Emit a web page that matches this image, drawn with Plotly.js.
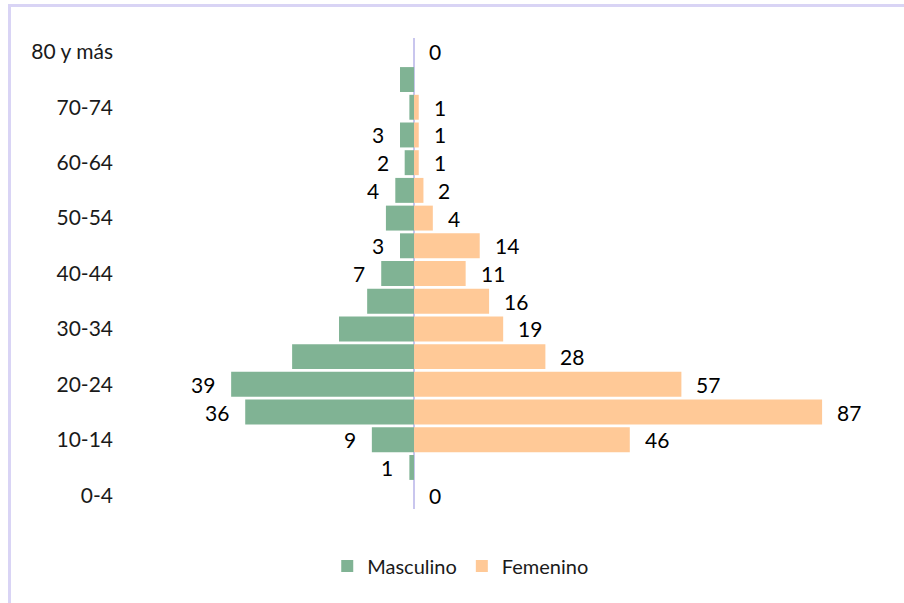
<!DOCTYPE html>
<html>
<head>
<meta charset="utf-8">
<script src="https://cdn.plot.ly/plotly-3.0.1.min.js"></script>
<style>
  html, body { margin: 0; padding: 0; background: #ffffff; overflow: hidden; }
  #frame { position: absolute; left: 8px; top: 4px; width: 2000px; height: 2000px;
           border-left: 3px solid #d9d4f5; border-top: 3px solid #d9d4f5; }
  #chart { position: absolute; left: 0; top: 0; width: 904px; height: 603px; }
</style>
</head>
<body>
<div id="frame"></div>
<div id="chart"></div>
<script>
// Age groups, bottom to top
const ageGroups = ['0-4','5-9','10-14','15-19','20-24','25-29','30-34','35-39','40-44',
                   '45-49','50-54','55-59','60-64','65-69','70-74','75-79','80 y más'];
// Tick labels shown on the vertical axis
const tickLabels = ['0-4','10-14','20-24','30-34','40-44','50-54','60-64','70-74','80 y más'];
// Values
const masculino = [0, 1, 9, 36, 39, 26, 16, 10, 7, 3, 6, 4, 2, 3, 1, 3, 0];
const femenino  = [0, 0, 46, 87, 57, 28, 19, 16, 11, 14, 4, 2, 1, 1, 1, 0, 0];
// Data labels as printed in the picture ('' = no label shown)
const masculinoLabels = ['', '1', '9', '36', '39', '', '', '', '7', '3', '', '4', '2', '3', '', '', ''];
const femeninoLabels  = ['0', '', '46', '87', '57', '28', '19', '16', '11', '14', '4', '2', '1', '1', '1', '', '0'];

const FONT = 'Lato, "Open Sans", "Noto Sans", sans-serif';

const traces = [
  {
    type: 'bar', orientation: 'h', name: 'Masculino',
    y: ageGroups, x: masculino.map(v => -v),
    customdata: masculino, hovertemplate: '%{y}: %{customdata}<extra>Masculino</extra>',
    marker: { color: '#80b394' }
  },
  {
    type: 'bar', orientation: 'h', name: 'Femenino',
    y: ageGroups, x: femenino,
    hovertemplate: '%{y}: %{x}<extra>Femenino</extra>',
    marker: { color: '#ffc997' }
  }
];

const annotations = [];
ageGroups.forEach((g, i) => {
  if (masculinoLabels[i] !== '') {
    annotations.push({ x: -masculino[i], y: g, xref: 'x', yref: 'y', text: masculinoLabels[i],
      showarrow: false, xanchor: 'right', yanchor: 'middle', xshift: -14,
      font: { family: FONT, size: 21, color: '#000000' } });
  }
  if (femeninoLabels[i] !== '') {
    annotations.push({ x: femenino[i], y: g, xref: 'x', yref: 'y', text: femeninoLabels[i],
      showarrow: false, xanchor: 'left', yanchor: 'middle', xshift: 13,
      font: { family: FONT, size: 21, color: '#000000' } });
  }
});

const layout = {
  width: 904, height: 603,
  margin: { l: 120, r: 20, t: 38, b: 94 },
  paper_bgcolor: 'rgba(0,0,0,0)', plot_bgcolor: 'rgba(0,0,0,0)',
  font: { family: FONT, size: 20, color: '#222222' },
  barmode: 'relative', bargap: 0.1,
  xaxis: {
    range: [-62.7, 100.2], showticklabels: false, showgrid: false,
    zeroline: true, zerolinecolor: '#c9c6ee', zerolinewidth: 1.5, fixedrange: true
  },
  yaxis: {
    type: 'category', categoryorder: 'array', categoryarray: ageGroups,
    range: [-0.5, 16.5],
    tickmode: 'array', tickvals: tickLabels, ticktext: tickLabels,
    ticks: '', showgrid: false, showline: false, zeroline: false,
    ticklabelstandoff: 6,
    tickfont: { family: FONT, size: 21, color: '#1a1a1a' }, fixedrange: true
  },
  showlegend: true,
  legend: {
    orientation: 'h', x: 0.446, xanchor: 'center', y: -0.121, yanchor: 'middle',
    font: { family: FONT, size: 20, color: '#1a1a1a' }, traceorder: 'normal'
  },
  annotations: annotations
};

Plotly.newPlot('chart', traces, layout, { displayModeBar: false, staticPlot: true });
</script>
</body>
</html>
